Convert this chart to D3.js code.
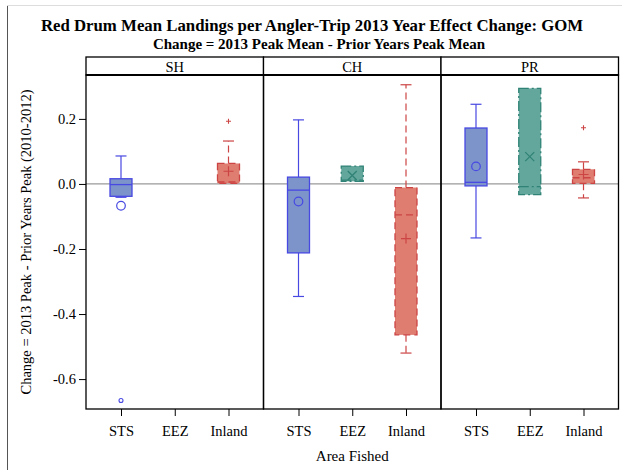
<!DOCTYPE html>
<html>
<head>
<meta charset="utf-8">
<script src="https://cdn.jsdelivr.net/npm/d3@7"></script>
<style>
  body { margin: 0; background: #fff; }
  text { font-family: "Liberation Serif", "Times New Roman", serif; fill: #000; }
</style>
</head>
<body>
<svg id="chart" width="622" height="470"></svg>
<script>
// panels and categories
const panels = ["SH", "CH", "PR"];
const areas = ["STS", "EEZ", "Inland"];

// one entry per box (SH has no EEZ box)
const boxPanel = ["SH", "SH", "CH", "CH", "CH", "PR", "PR", "PR"];
const boxArea = ["STS", "Inland", "STS", "EEZ", "Inland", "STS", "EEZ", "Inland"];
const whiskerLow = [-0.041, 0.002, -0.346, 0.008, -0.520, -0.166, -0.033, -0.043];
const q1 = [-0.038, 0.002, -0.212, 0.008, -0.464, -0.006, -0.033, 0.002];
const median = [-0.002, 0.006, -0.019, 0.012, -0.095, 0.005, -0.008, 0.019];
const q3 = [0.016, 0.063, 0.021, 0.055, -0.011, 0.172, 0.294, 0.045];
const whiskerHigh = [0.086, 0.132, 0.197, 0.055, 0.305, 0.245, 0.294, 0.068];
const means = [-0.067, 0.039, -0.054, 0.026, -0.168, 0.054, 0.084, 0.029];
const outliers = [[-0.666], [0.193], [], [], [], [], [], [0.173]];

const yTicks = [0.2, 0.0, -0.2, -0.4, -0.6];

// look per area
const style = {
  STS:    { fill: "#7d94cb", stroke: "#4848e2", dash: null, marker: "circle" },
  EEZ:    { fill: "#62a69c", stroke: "#2f8275", dash: "10,3,2,3", marker: "x" },
  Inland: { fill: "#df7d70", stroke: "#cc4444", dash: "7,4", marker: "plus" }
};

const svg = d3.select("#chart");

// outer frame of the picture
svg.append("line").attr("x1", 7.5).attr("x2", 7.5).attr("y1", 5).attr("y2", 470)
  .attr("stroke", "#555").attr("stroke-width", 1);
svg.append("line").attr("x1", 7).attr("x2", 622).attr("y1", 5.5).attr("y2", 5.5)
  .attr("stroke", "#ddd").attr("stroke-width", 1);

// titles
svg.append("text").attr("x", 312).attr("y", 31).attr("text-anchor", "middle")
  .style("font-size", "16.8px").style("font-weight", "bold")
  .text("Red Drum Mean Landings per Angler-Trip 2013 Year Effect Change: GOM");
svg.append("text").attr("x", 319).attr("y", 49).attr("text-anchor", "middle")
  .style("font-size", "15px").style("font-weight", "bold")
  .text("Change = 2013 Peak Mean - Prior Years Peak Mean");

const plotLeft = 86, plotRight = 618.5, headTop = 57, plotTop = 75, plotBottom = 409;

const y = d3.scaleLinear().domain([-0.692, 0.335]).range([plotBottom, plotTop]);
const px = d3.scaleBand().domain(panels).range([plotLeft, plotRight]);
const x = d3.scalePoint().domain(areas).range([35, px.bandwidth() - 35]);
const boxW = 22;

// y axis
const yAxis = svg.append("g").attr("transform", `translate(${plotLeft},0)`)
  .call(d3.axisLeft(y).tickValues(yTicks).tickSize(7).tickPadding(3)
    .tickFormat(d => d.toFixed(1)));
yAxis.select(".domain").remove();
yAxis.selectAll("text").style("font-size", "14.5px").style("font-family", "Liberation Serif, serif");
yAxis.selectAll("line").attr("stroke", "#000");

svg.append("text")
  .attr("transform", `translate(31,${(plotTop + plotBottom) / 2}) rotate(-90)`)
  .attr("text-anchor", "middle").style("font-size", "14.5px")
  .text("Change = 2013 Peak - Prior Years Peak (2010-2012)");

// reference line at zero
svg.append("line").attr("x1", plotLeft).attr("x2", plotRight)
  .attr("y1", y(0)).attr("y2", y(0)).attr("stroke", "#9a9a9a").attr("stroke-width", 1.2);

// boxes
boxPanel.forEach((p, i) => {
  const a = boxArea[i];
  const s = style[a];
  const cx = px(p) + x(a);
  const g = svg.append("g");
  const dash = s.dash;

  // whiskers
  [[q3[i], whiskerHigh[i]], [q1[i], whiskerLow[i]]].forEach(([from, to]) => {
    if (Math.abs(y(from) - y(to)) < 0.5) return;
    g.append("line").attr("x1", cx).attr("x2", cx).attr("y1", y(from)).attr("y2", y(to))
      .attr("stroke", s.stroke).attr("stroke-width", 1.2).attr("stroke-dasharray", dash);
    g.append("line").attr("x1", cx - 5.5).attr("x2", cx + 5.5).attr("y1", y(to)).attr("y2", y(to))
      .attr("stroke", s.stroke).attr("stroke-width", 1.2);
  });

  g.append("rect").attr("x", cx - boxW / 2).attr("width", boxW)
    .attr("y", y(q3[i])).attr("height", y(q1[i]) - y(q3[i]))
    .attr("fill", s.fill).attr("stroke", s.stroke).attr("stroke-width", 1.3)
    .attr("stroke-dasharray", dash);
  g.append("line").attr("x1", cx - boxW / 2).attr("x2", cx + boxW / 2)
    .attr("y1", y(median[i])).attr("y2", y(median[i]))
    .attr("stroke", s.stroke).attr("stroke-width", 1.3).attr("stroke-dasharray", dash);

  const drawMarker = (v, size, sw) => {
    const my = y(v);
    if (s.marker === "circle") {
      g.append("circle").attr("cx", cx).attr("cy", my).attr("r", size)
        .attr("fill", "none").attr("stroke", s.stroke).attr("stroke-width", sw);
    } else if (s.marker === "x") {
      g.append("path").attr("d", `M${cx - size},${my - size}L${cx + size},${my + size}M${cx - size},${my + size}L${cx + size},${my - size}`)
        .attr("stroke", s.stroke).attr("stroke-width", sw);
    } else {
      g.append("path").attr("d", `M${cx - size},${my}L${cx + size},${my}M${cx},${my - size}L${cx},${my + size}`)
        .attr("stroke", s.stroke).attr("stroke-width", sw);
    }
  };
  drawMarker(means[i], s.marker === "circle" ? 4.3 : s.marker === "x" ? 4.5 : 5, 1.2);
  outliers[i].forEach(v => drawMarker(v, s.marker === "circle" ? 2 : 2.5, 1.1));
});

// panel frames, headers and x axes
panels.forEach(p => {
  const x0 = px(p);
  svg.append("rect").attr("x", x0).attr("y", headTop).attr("width", px.bandwidth())
    .attr("height", plotTop - headTop).attr("fill", "#fff").attr("stroke", "#000").attr("stroke-width", 1.3);
  svg.append("text").attr("x", x0 + px.bandwidth() / 2).attr("y", 71.5)
    .attr("text-anchor", "middle").style("font-size", "14.5px").text(p);
  svg.append("rect").attr("x", x0).attr("y", plotTop).attr("width", px.bandwidth())
    .attr("height", plotBottom - plotTop).attr("fill", "none").attr("stroke", "#000").attr("stroke-width", 1.3);
  const xa = svg.append("g").attr("transform", `translate(${x0},${plotBottom})`)
    .call(d3.axisBottom(x).tickSize(7).tickPadding(10));
  xa.select(".domain").remove();
  xa.selectAll("text").style("font-size", "14.5px").style("font-family", "Liberation Serif, serif");
  xa.selectAll("line").attr("stroke", "#000");
});
// darker rule under the headers
svg.append("line").attr("x1", plotLeft).attr("x2", plotRight).attr("y1", plotTop).attr("y2", plotTop)
  .attr("stroke", "#000").attr("stroke-width", 2);

svg.append("text").attr("x", (plotLeft + plotRight) / 2).attr("y", 461)
  .attr("text-anchor", "middle").style("font-size", "15px").text("Area Fished");
</script>
</body>
</html>
